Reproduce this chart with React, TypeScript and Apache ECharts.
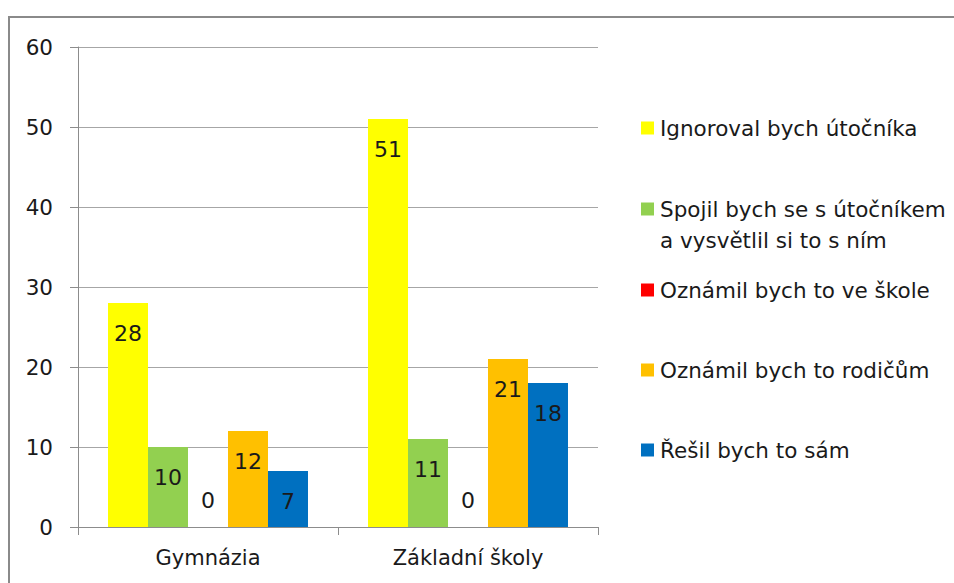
import React, { useEffect, useRef } from "react";
import * as echarts from "echarts";

const categories = ["Gymnázia", "Základní školy"];
const seriesNames = [
  "Ignoroval bych útočníka",
  "Spojil bych se s útočníkem a vysvětlil si to s ním",
  "Oznámil bych to ve škole",
  "Oznámil bych to rodičům",
  "Řešil bych to sám",
];
const ignoroval = [28, 51];
const spojil = [10, 11];
const oznamilSkole = [0, 0];
const oznamilRodicum = [12, 21];
const resilSam = [7, 18];
const seriesValues = [ignoroval, spojil, oznamilSkole, oznamilRodicum, resilSam];
const colors = ["#FFFF00", "#92D050", "#FF0000", "#FFC000", "#0070C0"];
const yMin = 0;
const yMax = 60;
const yInterval = 10;

const FONT = "DejaVu Sans";
const TEXT = "#1a1a1a";

export default function App() {
  const ref = useRef<HTMLDivElement>(null);
  useEffect(() => {
    document.body.style.margin = "0";
    const chart = echarts.init(ref.current!, null, { renderer: "svg" });
    const legendTops = [116, 197, 278, 358, 438];
    const legends = seriesNames.map((name, i) => ({
      show: true,
      data: [name],
      left: 641,
      top: legendTops[i],
      padding: 0,
      icon: "rect",
      itemWidth: 13,
      itemHeight: 13,
      selectedMode: false,
      formatter: (n: string) =>
        n === seriesNames[1] ? "Spojil bych se s útočníkem" : n,
      textStyle: {
        fontFamily: FONT,
        fontSize: 21.5,
        lineHeight: 24,
        color: TEXT,
        padding: [0, 0, 0, 1],
      },
    }));
    chart.setOption({
      animation: false,
      backgroundColor: "#ffffff",
      grid: { left: 78, top: 47, right: 356, bottom: 56, containLabel: false },
      legend: legends,
      xAxis: {
        type: "category",
        data: categories,
        axisLine: { show: true, lineStyle: { color: "#8c8c8c", width: 1 } },
        axisTick: { show: true, length: 8, lineStyle: { color: "#8c8c8c" } },
        axisLabel: {
          fontFamily: FONT,
          fontSize: 21,
          color: TEXT,
          margin: 20,
        },
        splitLine: { show: false },
      },
      yAxis: {
        type: "value",
        min: yMin,
        max: yMax,
        interval: yInterval,
        axisLine: { show: true, lineStyle: { color: "#8c8c8c", width: 1 } },
        axisTick: { show: true, length: 8, lineStyle: { color: "#8c8c8c" } },
        axisLabel: {
          fontFamily: FONT,
          fontSize: 21.5,
          color: TEXT,
          margin: 25,
        },
        splitLine: { show: true, lineStyle: { color: "#a6a6a6", width: 1 } },
      },
      series: seriesNames.map((name, i) => ({
        name,
        type: "bar",
        barGap: "0%",
        barCategoryGap: "23.08%",
        itemStyle: { color: colors[i] },
        label: {
          show: true,
          position: "insideTop",
          distance: 19,
          fontFamily: FONT,
          fontSize: 22,
          lineHeight: 22,
          color: TEXT,
        },
        data: seriesValues[i].map((v) =>
          v === 0 ? { value: v, label: { position: "top", distance: 16 } } : v
        ),
      })),
      graphic: [
        {
          type: "rect",
          shape: { x: 9, y: 17, width: 1000, height: 700 },
          style: { fill: "none", stroke: "#8a8a8a", lineWidth: 2 },
          silent: true,
        },
        {
          type: "text",
          left: 660,
          top: 229,
          style: {
            text: "a vysvětlil si to s ním",
            fontFamily: FONT,
            fontSize: 21.5,
            fill: TEXT,
          },
          silent: true,
        },
      ],
    });
    return () => chart.dispose();
  }, []);
  return (
    <div
      ref={ref}
      style={{ width: 954, height: 583, position: "absolute", left: 0, top: 0 }}
    />
  );
}
